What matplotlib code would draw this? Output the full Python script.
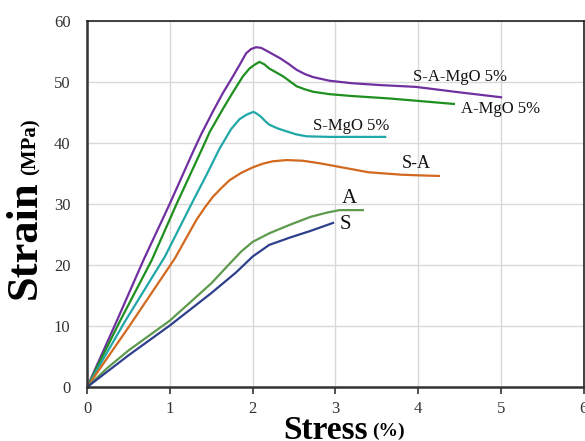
import matplotlib
matplotlib.use("Agg")
import matplotlib.pyplot as plt

# Stress (%) / Strain (MPa) curves for each mix
sam_x = [0, 0.35, 0.68, 1.0, 1.28, 1.38, 1.52, 1.64, 1.76, 1.85, 1.92, 1.98, 2.04, 2.1, 2.17, 2.25,
         2.33, 2.43, 2.53, 2.63, 2.73, 2.93, 3.2, 3.53, 3.97, 4.5, 5.0]
sam_y = [0, 10.6, 20.8, 30.1, 38.6, 41.5, 45.2, 48.2, 50.9, 53.0, 54.7, 55.4, 55.7, 55.6, 55.1, 54.5,
         53.9, 53.0, 52.0, 51.3, 50.8, 50.2, 49.8, 49.5, 49.2, 48.3, 47.5]

am_x = [0, 0.4, 0.78, 1.08, 1.38, 1.48, 1.64, 1.76, 1.88, 1.96, 2.02, 2.08, 2.14, 2.2, 2.28, 2.37,
        2.45, 2.53, 2.63, 2.73, 2.93, 3.2, 3.65, 4.0, 4.43]
am_y = [0, 10.9, 20.8, 30.0, 38.8, 41.8, 45.6, 48.3, 50.9, 52.2, 52.8, 53.3, 52.9, 52.2, 51.6, 50.9,
        50.1, 49.3, 48.8, 48.4, 48.0, 47.7, 47.3, 46.9, 46.4]

sm_x = [0, 0.45, 0.94, 1.26, 1.45, 1.6, 1.74, 1.84, 1.92, 1.97, 2.01, 2.05, 2.1, 2.15, 2.2, 2.3,
        2.41, 2.53, 2.65, 2.93, 3.3, 3.6]
sm_y = [0, 10.6, 21.4, 30.0, 35.0, 39.1, 42.3, 43.9, 44.6, 44.9, 45.1, 44.8, 44.3, 43.6, 43.0, 42.4,
        41.9, 41.4, 41.1, 41.0, 41.0, 41.0]

sa_x = [0, 0.5, 1.06, 1.2, 1.32, 1.42, 1.52, 1.62, 1.72, 1.86, 2.0, 2.12, 2.24, 2.41, 2.6, 2.8,
        3.0, 3.2, 3.4, 3.6, 3.8, 4.0, 4.25]
sa_y = [0, 9.8, 21.1, 24.5, 27.4, 29.4, 31.2, 32.6, 33.9, 35.1, 36.0, 36.6, 37.0, 37.2, 37.1, 36.7,
        36.2, 35.7, 35.2, 35.0, 34.8, 34.7, 34.6]

a_x = [0, 0.25, 0.5, 1.0, 1.5, 1.72, 1.86, 2.0, 2.2, 2.45, 2.7, 2.9, 3.05, 3.33]
a_y = [0, 3.2, 6.0, 10.9, 17.0, 20.2, 22.2, 23.8, 25.2, 26.6, 27.9, 28.6, 29.0, 29.0]

s_x = [0, 0.5, 1.0, 1.5, 1.8, 2.0, 2.2, 2.45, 2.7, 2.97]
s_y = [0, 5.2, 10.1, 15.4, 18.8, 21.4, 23.3, 24.5, 25.6, 26.9]

series = [
    (sam_x, sam_y, "#7030A0"),
    (am_x, am_y, "#1F8F1F"),
    (sm_x, sm_y, "#20A8A8"),
    (sa_x, sa_y, "#D2691E"),
    (a_x, a_y, "#5E9A4E"),
    (s_x, s_y, "#2E3F8C"),
]

# curve labels: text, x, y, size
labels = [
    ("S-A-MgO 5%", 4.5, 50.9, 12),
    ("A-MgO 5%", 4.99, 45.5, 12),
    ("S-MgO 5%", 3.19, 42.8, 12),
    ("S-A", 3.97, 36.7, 13),
    ("A", 3.17, 30.9, 15),
    ("S", 3.12, 26.7, 15),
]

xticks = [0, 1, 2, 3, 4, 5, 6]
yticks = [0, 10, 20, 30, 40, 50, 60]

plt.rcParams["font.family"] = ["Liberation Serif", "DejaVu Serif"]

fig = plt.figure(figsize=(5.85, 4.41), dpi=100)
ax = fig.add_axes([0.149, 0.1224, 0.849, 0.830])

for xs, ys, c in series:
    ax.plot(xs, ys, color=c, lw=1.6, solid_joinstyle="round")

for t, x, y, s in labels:
    ax.text(x, y, t, fontsize=s, ha="center", va="center", color="#111111")

ax.set_xlim(0, 6)
ax.set_ylim(0, 60)
ax.set_xticks(xticks)
ax.set_yticks(yticks)
ax.grid(True, color="#d9d9d9", lw=1.0)
ax.set_axisbelow(True)
for side in ["left", "bottom"]:
    ax.spines[side].set_linewidth(1.8)
    ax.spines[side].set_color("#333333")
for side in ["top", "right"]:
    ax.spines[side].set_linewidth(1.2)
    ax.spines[side].set_color("#222222")
ax.tick_params(axis="x", direction="out", length=5, width=1.2, colors="#333333",
               labelsize=12, labelcolor="#333333", pad=5)
ax.tick_params(axis="y", length=0, labelsize=12, labelcolor="#333333", pad=12)

# axis titles built from two text pieces each
fig.text(25 / 585, 1 - 240 / 441, "Strain", rotation=90, fontsize=32, fontweight="bold",
         ha="center", va="center", color="black")
fig.text(31 / 585, 1 - 147 / 441, "(MPa)", rotation=90, fontsize=15, fontweight="bold",
         ha="center", va="center", color="black")
fig.text(326 / 585, 1 - 439 / 441, "Stress", fontsize=24, fontweight="bold",
         ha="center", va="baseline", color="black")
fig.text(388 / 585, 1 - 436 / 441, "(%)", fontsize=14, fontweight="bold",
         ha="center", va="baseline", color="black")

fig.savefig("out.png", dpi=100)
